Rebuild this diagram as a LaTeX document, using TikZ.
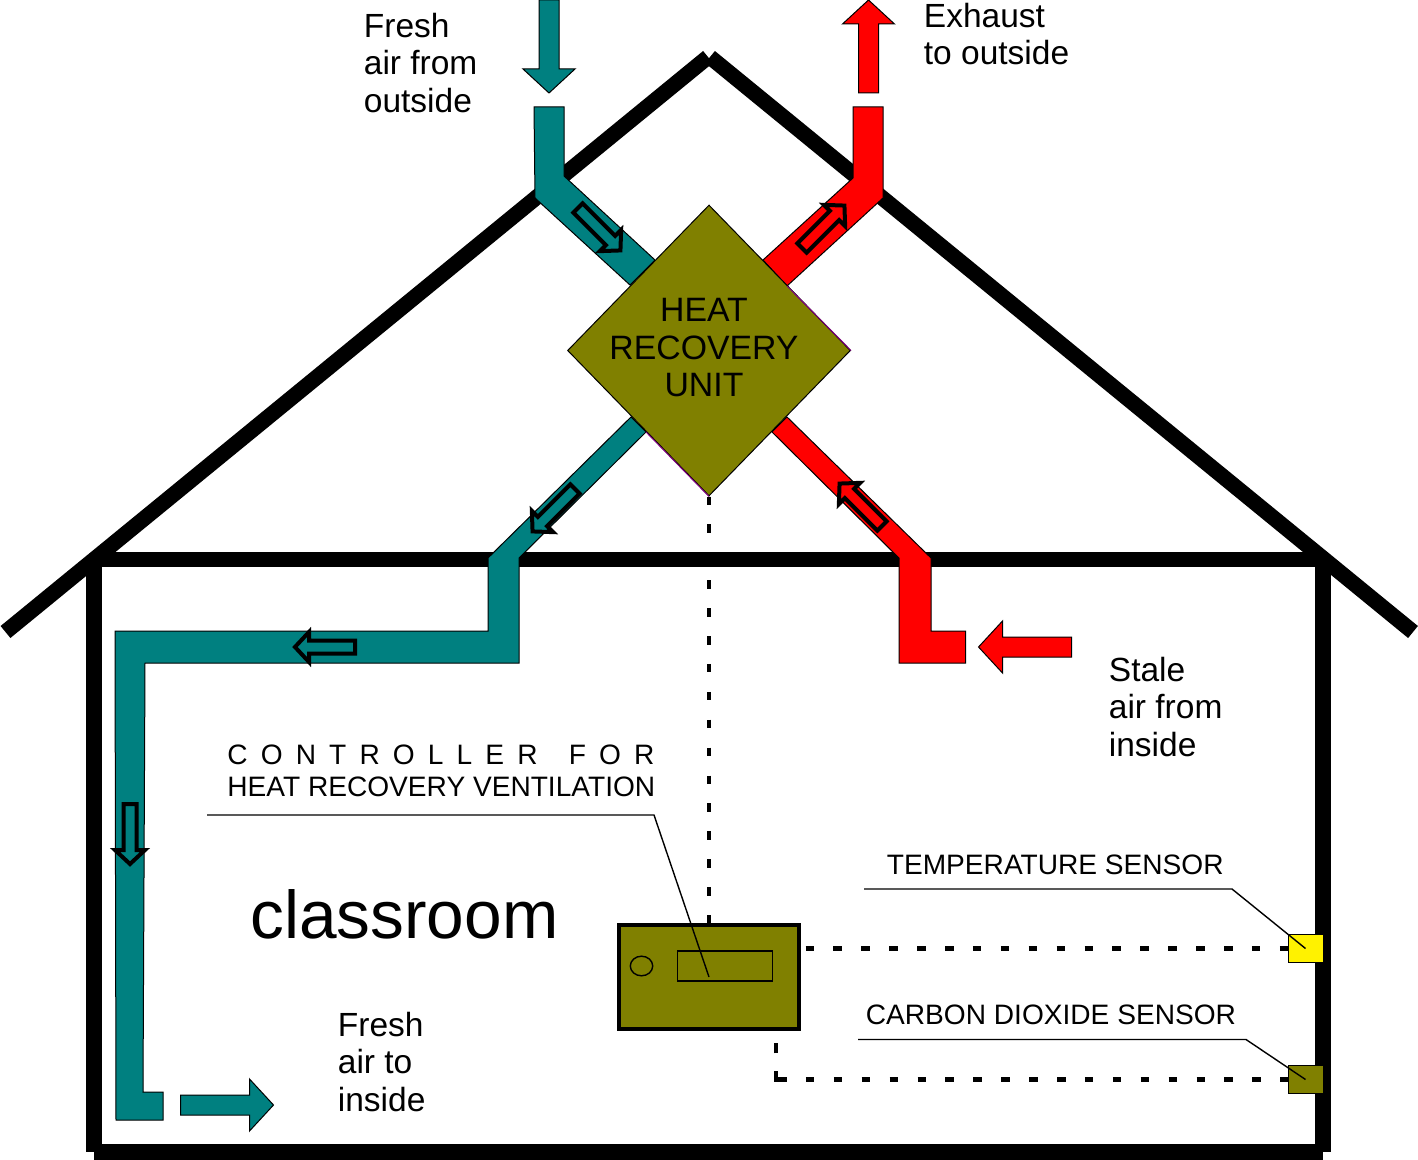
\documentclass[tikz,border=0pt]{standalone}
\usepackage{fontspec}
\setmainfont{Liberation Sans}
\usetikzlibrary{shapes.geometric}

\definecolor{ductteal}{RGB}{0,128,128}
\definecolor{ductred}{RGB}{255,0,0}
\definecolor{unitolive}{RGB}{128,128,0}
\definecolor{unitedge}{RGB}{128,0,128}

\tikzset{wall/.style={line width=7.75pt, line cap=butt}}
\tikzset{duct/.style={draw=black, line width=0.5pt, line join=miter}}
\tikzset{flowmark/.style={draw=black, line width=2pt, line join=miter}}
\tikzset{dotline/.style={line width=2.2pt, dash pattern=on 4.25pt off 9.7pt}}
\tikzset{leader/.style={line width=0.7pt}}
\tikzset{airlabel/.style={font=\fontsize{16.75}{18.75}\selectfont, align=left, anchor=west, inner sep=0pt}}
\tikzset{signlabel/.style={font=\fontsize{14.05}{16}\selectfont, align=left, inner sep=0pt}}
\tikzset{sensor/.style={draw=black, line width=0.5pt, minimum width=17.5pt, minimum height=14pt, inner sep=0pt}}

\begin{document}
\begin{tikzpicture}[x=0.5pt, y=-0.5pt]

    \useasboundingbox (0,0) rectangle (1418,1160);

    % house
    \draw[wall] (5.5,632) -- (708,57);
    \draw[wall] (1413,632) -- (710,57);
    \draw[wall] (94,559.5) -- (1323,559.5);
    \draw[wall] (94,559.5) -- (94,1152);
    \draw[wall] (1323,559.5) -- (1323,1152);
    \draw[wall] (94,1152) -- (1323,1152);

    % ducts
    \draw[duct, fill=ductteal] (534,107) -- (564,107) -- (564,176) -- (655,260) -- (630,285) -- (535,198) -- cycle;
    \draw[duct, fill=ductred] (853,107) -- (883,107) -- (883,198) -- (787,286) -- (763,260) -- (853,178) -- cycle;
    \draw[duct, fill=ductteal] (631,417) -- (646,432) -- (519,558) -- (519,663) -- (145,663) -- (143,1092) -- (163,1092)
        -- (163,1120) -- (116,1120) -- (115,631) -- (488,631) -- (488,558) -- cycle;
    \draw[duct, fill=ductred] (787,417) -- (772,432) -- (899,558) -- (899,663) -- (965.5,663) -- (965.5,631) -- (931,631)
        -- (931,558) -- cycle;

    % air in and out of the building
    \foreach \x/\y/\a/\c in {549/0/-90/ductteal, 868.5/93/90/ductred, 1071.5/647/180/ductred, 180.5/1105/0/ductteal} {
    \draw[duct, fill=\c, shift={(\x,\y)}, rotate=\a] (0,-10) -- (69,-10) -- (69,-26) -- (93,0) -- (69,26) -- (69,10) -- (0,10) -- cycle;
    }

    % arrows on the ducts
    \foreach \x/\y/\a in {578/208/-45, 802/248/45, 575/489/-135, 882/526/135, 355/647/180, 130/804/-90} {
    \draw[flowmark, shift={(\x,\y)}, rotate=\a] (0,-6.5) -- (46,-6.5) -- (46,-15) -- (60,0) -- (46,15) -- (46,6.5) -- (0,6.5) -- cycle;
    }

    % unit
    \node[diamond, draw=black, line width=0.5pt, fill=unitolive, minimum width=141.5pt, minimum height=145.5pt, inner sep=0pt] (unit) at (709,350.5) {};
    \draw[unitedge, line width=0.5pt] (646,432) -- (unit.south);
    \draw[unitedge, line width=0.5pt] (787,286) -- (unit.east);
    \node[font=\fontsize{16.9}{18.75}\selectfont, align=center, inner sep=0pt] (unitlabel) at (704,348) {HEAT\\RECOVERY\\UNIT};

    % controller and sensors
    \node[draw=black, line width=2pt, fill=unitolive, minimum width=90pt, minimum height=52pt, inner sep=0pt] (controller) at (709,977) {};
    \node[draw=black, line width=0.7pt, minimum width=47.5pt, minimum height=15pt, inner sep=0pt] (display) at (725,966) {};
    \node[ellipse, draw=black, line width=0.7pt, minimum width=11.2pt, minimum height=9.8pt, inner sep=0pt] (knob) at (641.5,966) {};
    \node[sensor, fill=yellow] (tempsensor) at (1305.5,948.5) {};
    \node[sensor, fill=unitolive] (cosensor) at (1305.5,1079.5) {};

    \coordinate (bendh) at (778,1079.5);
    \coordinate (bendv) at (776,1081.7);
    \draw[dotline] (unit.south) -- (controller.north);
    \draw[dotline, dash phase=11.7pt] (controller.east |- tempsensor) -- (tempsensor);
    \draw[dotline] (bendh) -- (cosensor);
    \draw[dotline, dash pattern=on 5.2pt off 9pt] (bendv) -- (bendv |- controller.south);

    % labels
    \node[airlabel] (freshout) at (363.5,63) {Fresh\\air from\\outside};
    \node[airlabel] (exhaust) at (923.5,34) {Exhaust\\to outside};
    \node[airlabel] (stale) at (1108.5,707) {Stale\\air from\\inside};
    \node[airlabel] (freshin) at (337.5,1062) {Fresh\\air to\\inside};
    \node[anchor=base west, font=\fontsize{33.8}{36}\selectfont, inner sep=0pt] (room) at (250,938) {classroom};
    \node[signlabel, anchor=west] (ctrllabel) at (227,771) {\makebox[213.5pt][s]{C O N T R O L L E R\hspace{9pt} F O R}\\HEAT RECOVERY VENTILATION};
    \node[signlabel, anchor=base west] (templabel) at (886.5,874) {TEMPERATURE SENSOR};
    \node[signlabel, anchor=base west] (colabel) at (865.5,1024) {CARBON DIOXIDE SENSOR};

    % leaders
    \coordinate (ctrlfoot) at (207,815);
    \coordinate (ctrlknee) at (654,815);
    \coordinate (ctrlend) at (709,977);
    \coordinate (tempfoot) at (864,889);
    \coordinate (tempknee) at (1232,889);
    \coordinate (cofoot) at (858,1039.5);
    \coordinate (coknee) at (1246,1039.5);
    \draw[leader] (ctrlfoot) -- (ctrlknee) -- (ctrlend);
    \draw[leader] (tempfoot) -- (tempknee) -- (tempsensor.center);
    \draw[leader] (cofoot) -- (coknee) -- (cosensor.center);

\end{tikzpicture}
\end{document}
